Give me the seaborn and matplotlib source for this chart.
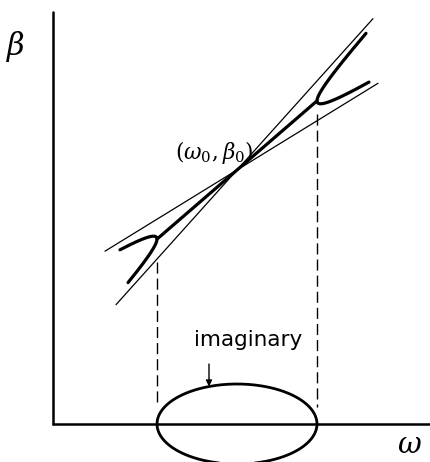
import numpy as np
import pandas as pd
import matplotlib
matplotlib.use("Agg")
import matplotlib.pyplot as plt
import seaborn as sns

sns.set_theme(style="white")
plt.rcParams["font.family"] = ["DejaVu Sans"]
plt.rcParams["mathtext.fontset"] = "dejavuserif"

# crossing point of the two uncoupled modes
omega0 = 1.84
beta0 = 2.54
# slopes dβ/dω of the two uncoupled modes (steep, shallow)
mode_slopes = [1.113, 0.615]
# half-width of the stop band in ω
half_gap = 0.80
# extents of the two asymptote lines in ω
asym_omega_start = [0.63, 0.52]
asym_omega_end = [3.20, 3.25]
# ω where the coupled branches end: left-upper, left-lower, right-upper, right-lower
branch_end_omega = [0.67, 0.75, 3.13, 3.16]
# peak of the imaginary part (drawn magnified)
imag_peak = 0.40
# axis extents
axis_omega_max = 3.85
axis_beta_max = 4.12
# top ends of the dashed stop-band edges
edge_top = [1.62, 3.10]
edge_bottom = 0.17

mean_slope = 0.5 * (mode_slopes[0] + mode_slopes[1])
half_diff = 0.5 * (mode_slopes[0] - mode_slopes[1])
kappa = half_diff * half_gap

fig = plt.figure(figsize=(4.31, 4.62), dpi=100)
ax = fig.add_axes([0, 0, 1, 1])
ax.set_xlim(-0.53, 3.78)
ax.set_ylim(-0.38, 4.24)
ax.axis("off")

ink = "black"


def curve(x, y, lw, **kw):
    sns.lineplot(x=np.asarray(x, float), y=np.asarray(y, float), ax=ax,
                 color=ink, lw=lw, sort=False, estimator=None, **kw)


# axes of the diagram
curve([0, 0], [0, axis_beta_max], 1.8)
curve([0, axis_omega_max], [0, 0], 1.8)

# uncoupled modes (thin asymptotes)
for slope, w_a, w_b in zip(mode_slopes, asym_omega_start, asym_omega_end):
    w = np.array([w_a, w_b])
    curve(w, beta0 + slope * (w - omega0), 0.9)

# real part inside the stop band
w_mid = np.array([omega0 - half_gap, omega0 + half_gap])
curve(w_mid, beta0 + mean_slope * (w_mid - omega0), 2.3)

# coupled branches outside the stop band (hyperbola, parametrised by t)
for side, (w_up, w_lo) in ((-1, branch_end_omega[0:2]), (1, branch_end_omega[2:4])):
    t_up = np.arccosh(abs(w_up - omega0) / half_gap)
    t_lo = np.arccosh(abs(w_lo - omega0) / half_gap)
    t = np.linspace(-t_lo, t_up, 200)
    d = side * half_gap * np.cosh(t)
    curve(omega0 + d, beta0 + mean_slope * d + kappa * np.sinh(t), 2.3)

# imaginary part over the stop band
theta = np.linspace(0, 2 * np.pi, 300)
curve(omega0 + half_gap * np.cos(theta), imag_peak * np.sin(theta), 2.0)

# stop-band edges
for w_e, y_top in zip([omega0 - half_gap, omega0 + half_gap], edge_top):
    ax.plot([w_e, w_e], [y_top, edge_bottom], color=ink, lw=1.0, dashes=(8, 3.6))

# labels
ax.text(-0.37, 3.77, r"$\beta$", fontsize=22, ha="center", va="center", color=ink)
ax.text(3.56, -0.21, r"$\omega$", fontsize=21, ha="center", va="center", color=ink)
ax.text(1.61, 2.72, r"$(\omega_0,\beta_0)$", fontsize=15.5, ha="center", va="center", color=ink)
ax.text(1.95, 0.84, "imaginary", fontsize=15.5, ha="center", va="center", color=ink)
w_arrow = 1.56
ax.annotate("", xy=(w_arrow, imag_peak * np.sqrt(1 - ((w_arrow - omega0) / half_gap) ** 2)),
            xytext=(w_arrow, 0.60),
            arrowprops=dict(arrowstyle="-|>", color=ink, lw=1.0, mutation_scale=9,
                            shrinkA=0, shrinkB=0))

fig.savefig("out.png", dpi=100)
